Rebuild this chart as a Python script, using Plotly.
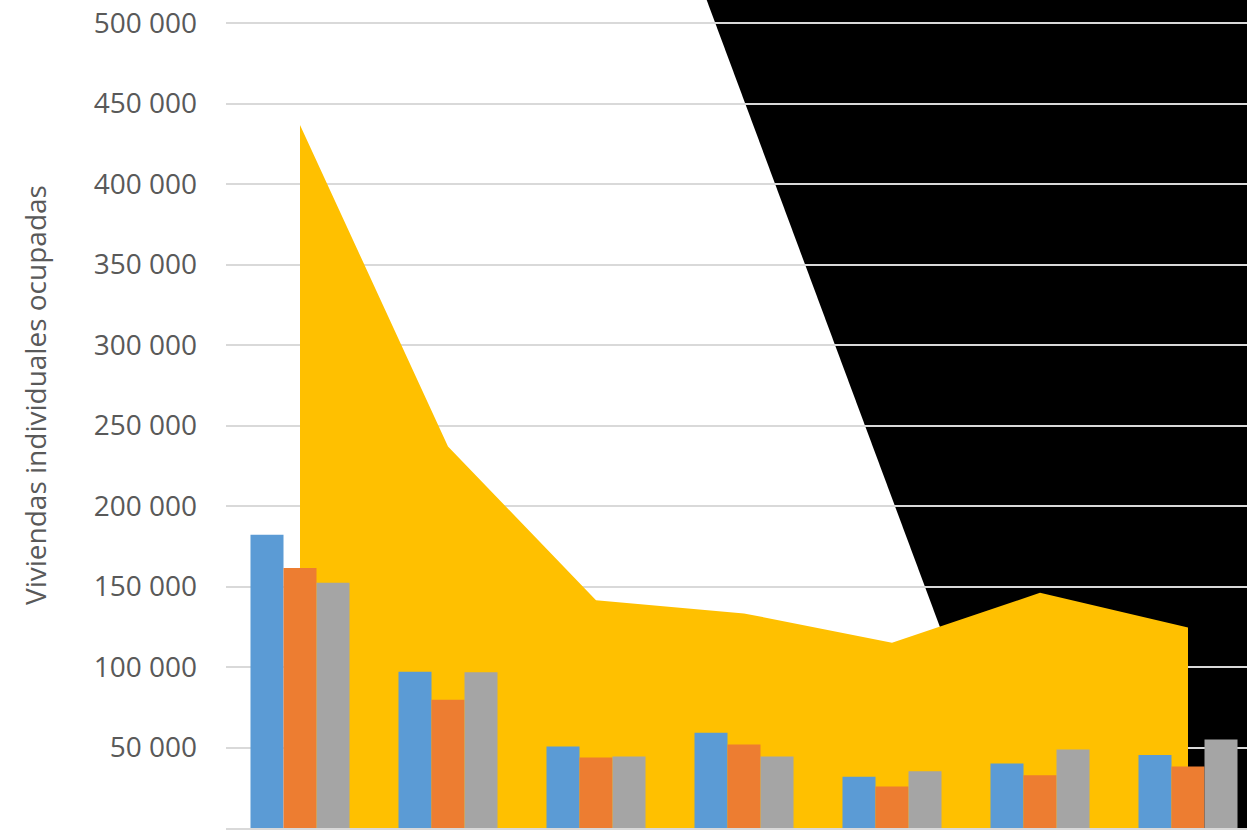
import plotly.graph_objects as go

categories = ["C1", "C2", "C3", "C4", "C5", "C6", "C7"]
serie_azul = [182200, 97100, 50600, 59100, 31800, 40000, 45400]
serie_naranja = [161500, 79600, 43800, 51800, 25800, 32800, 38200]
serie_gris = [152400, 96700, 44400, 44400, 35300, 48700, 54900]
area_total = [436700, 237000, 141400, 133300, 115000, 146100, 124600]
tick_vals = [50000, 100000, 150000, 200000, 250000, 300000, 350000, 400000, 450000, 500000]
tick_text = ["50 000", "100 000", "150 000", "200 000", "250 000", "300 000",
             "350 000", "400 000", "450 000", "500 000"]

W, H = 1247, 830
L, R, T, B = 226, 0, 0, 2
plot_w = W - L - R
plot_h = H - T - B
band = 148.0
x_range = [-0.5, -0.5 + plot_w / band]
y_top = 500000 + 23 / 805 * 500000
y_range = [0, y_top]

fig = go.Figure()

# Yellow area (drawn below bars)
fig.add_trace(go.Scatter(
    x=categories, y=area_total, mode="lines", fill="tozeroy",
    fillcolor="#FFC000", line=dict(width=0, color="#FFC000"),
    xaxis="x", yaxis="y", showlegend=False, hoverinfo="skip",
))

for vals, col in [(serie_azul, "#5B9BD5"), (serie_naranja, "#ED7D31"), (serie_gris, "#A5A5A5")]:
    fig.add_trace(go.Bar(
        x=categories, y=vals, marker=dict(color=col, line=dict(width=0)),
        xaxis="x", yaxis="y2", showlegend=False,
    ))

# black diagonal background shape (edge from screen (706.7,0) with slope 0.372 px/px)
def edge_x(py):
    return (706.7 + 0.372 * py - L) / plot_w

y_hi, y_lo = -17.0, 836.0
p_hi, p_lo = (plot_h - y_hi) / plot_h, (plot_h - y_lo) / plot_h
fig.add_shape(
    type="path", xref="paper", yref="paper", layer="below",
    path=f"M {edge_x(y_hi):.4f},{p_hi:.4f} L 1.05,{p_hi:.4f} L 1.05,{p_lo:.4f} L {edge_x(y_lo):.4f},{p_lo:.4f} Z",
    fillcolor="black", line=dict(width=0),
)

fig.add_annotation(
    text="Viviendas individuales ocupadas", textangle=-90,
    xref="paper", yref="paper", x=(35 - L) / plot_w, y=(H - B - 395) / plot_h,
    xanchor="center", yanchor="middle", showarrow=False,
    font=dict(family="Open Sans", size=28, color="#595959"),
)

fig.update_layout(
    width=W, height=H,
    margin=dict(l=L, r=R, t=T, b=B),
    paper_bgcolor="white", plot_bgcolor="rgba(0,0,0,0)",
    barmode="group", bargap=0.331, bargroupgap=0,
    font=dict(family="Open Sans", color="#595959"),
    xaxis=dict(type="category", range=x_range, showticklabels=False, showgrid=False,
               zeroline=False, showline=True, linecolor="#D9D9D9", linewidth=2, ticks=""),
    yaxis=dict(range=y_range, tickvals=tick_vals, ticktext=tick_text, showgrid=True,
               gridcolor="#D9D9D9", gridwidth=2, zeroline=False, showline=False, ticks="",
               tickfont=dict(family="Open Sans", size=28, color="#595959"),
               ticklabelstandoff=28),
    yaxis2=dict(range=y_range, overlaying="y", visible=False, showgrid=False, zeroline=False),
)

fig.write_html("out.html", config={"displayModeBar": False},
               post_script="document.body.style.margin='0px';document.body.style.overflow='hidden';")
